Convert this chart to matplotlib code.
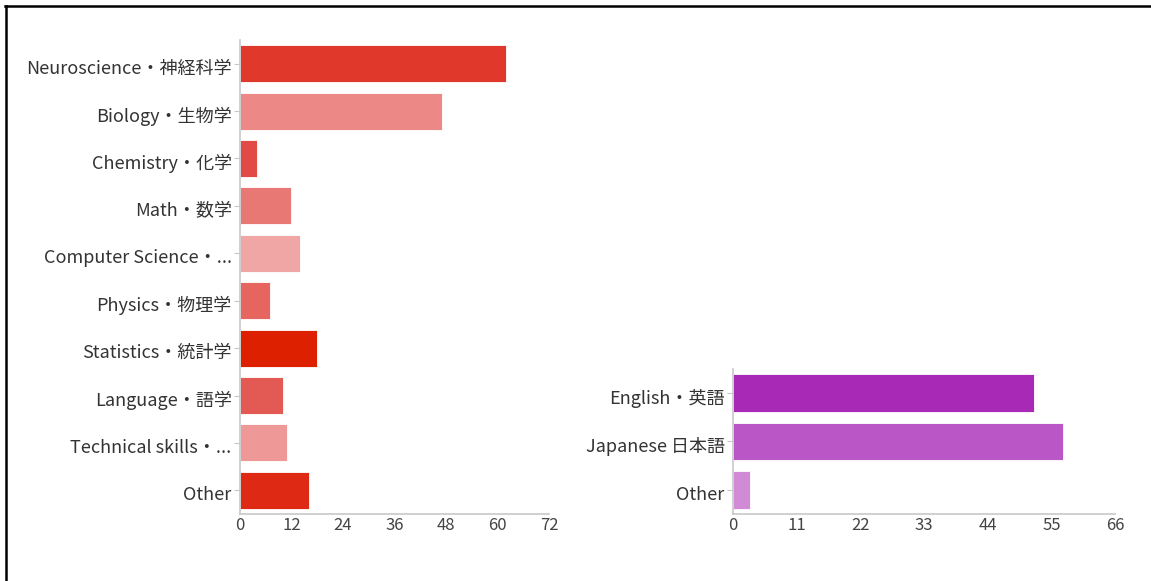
import matplotlib
matplotlib.use('Agg')
import matplotlib.pyplot as plt
from matplotlib.lines import Line2D
from matplotlib.transforms import ScaledTranslation

plt.rcParams['font.family'] = ['Noto Sans CJK JP', 'DejaVu Sans']

# left chart: field of study
fields = ['Neuroscience・神経科学', 'Biology・生物学', 'Chemistry・化学', 'Math・数学',
          'Computer Science・...', 'Physics・物理学', 'Statistics・統計学',
          'Language・語学', 'Technical skills・...', 'Other']
field_counts = [62, 47, 4, 12, 14, 7, 18, 10, 11, 16]
field_colors = ['#E0382A', '#EC8986', '#E24A47', '#E87874', '#F0A6A5',
                '#E6665F', '#DC2000', '#E35A55', '#EE9997', '#DE2914']
field_ticks = [0, 12, 24, 36, 48, 60, 72]

# right chart: language
langs = ['English・英語', 'Japanese 日本語', 'Other']
lang_counts = [52, 57, 3]
lang_colors = ['#A829B6', '#BB56C6', '#D08AD6']
lang_ticks = [0, 11, 22, 33, 44, 55, 66]

W, H = 1151, 581
fig = plt.figure(figsize=(W / 100, H / 100), dpi=100)


def px_axes(x0, y0, x1, y1):
    return fig.add_axes([x0 / W, 1 - y1 / H, (x1 - x0) / W, (y1 - y0) / H])


def draw(ax, labels, values, colors, ticks):
    ax.barh(range(len(values)), values, height=0.78, color=colors,
            edgecolor='#ffffff', linewidth=0.6)
    ax.set_ylim(len(values) - 0.5, -0.5)
    ax.set_xlim(ticks[0], ticks[-1])
    ax.set_yticks(range(len(labels)))
    ax.set_yticklabels(labels)
    ax.set_xticks(ticks)
    for s in ['top', 'right']:
        ax.spines[s].set_visible(False)
    for s in ['left', 'bottom']:
        ax.spines[s].set_color('#c8c8c8')
        ax.spines[s].set_linewidth(1.2)
    ax.tick_params(axis='y', length=4, color='#c8c8c8', pad=2,
                   labelsize=13, labelcolor='#333333')
    ax.tick_params(axis='x', length=0, pad=2,
                   labelsize=12, labelcolor='#444444')
    # labels sit a few pixels below the bar centres in the original
    shift = ScaledTranslation(0, -3 / 100, fig.dpi_scale_trans)
    for lab in ax.get_yticklabels():
        lab.set_transform(lab.get_transform() + shift)


ax1 = px_axes(240, 40, 549, 514)
draw(ax1, fields, field_counts, field_colors, field_ticks)

ax2 = px_axes(733, 369, 1115, 514)
draw(ax2, langs, lang_counts, lang_colors, lang_ticks)

# frame lines (top and left only, as in the screenshot)
fig.add_artist(Line2D([5 / W, 1], [1 - 6 / H, 1 - 6 / H], color='black', linewidth=1.8))
fig.add_artist(Line2D([6 / W, 6 / W], [0, 1 - 6 / H], color='black', linewidth=1.8))

fig.savefig('out.png', dpi=100, facecolor='white')
